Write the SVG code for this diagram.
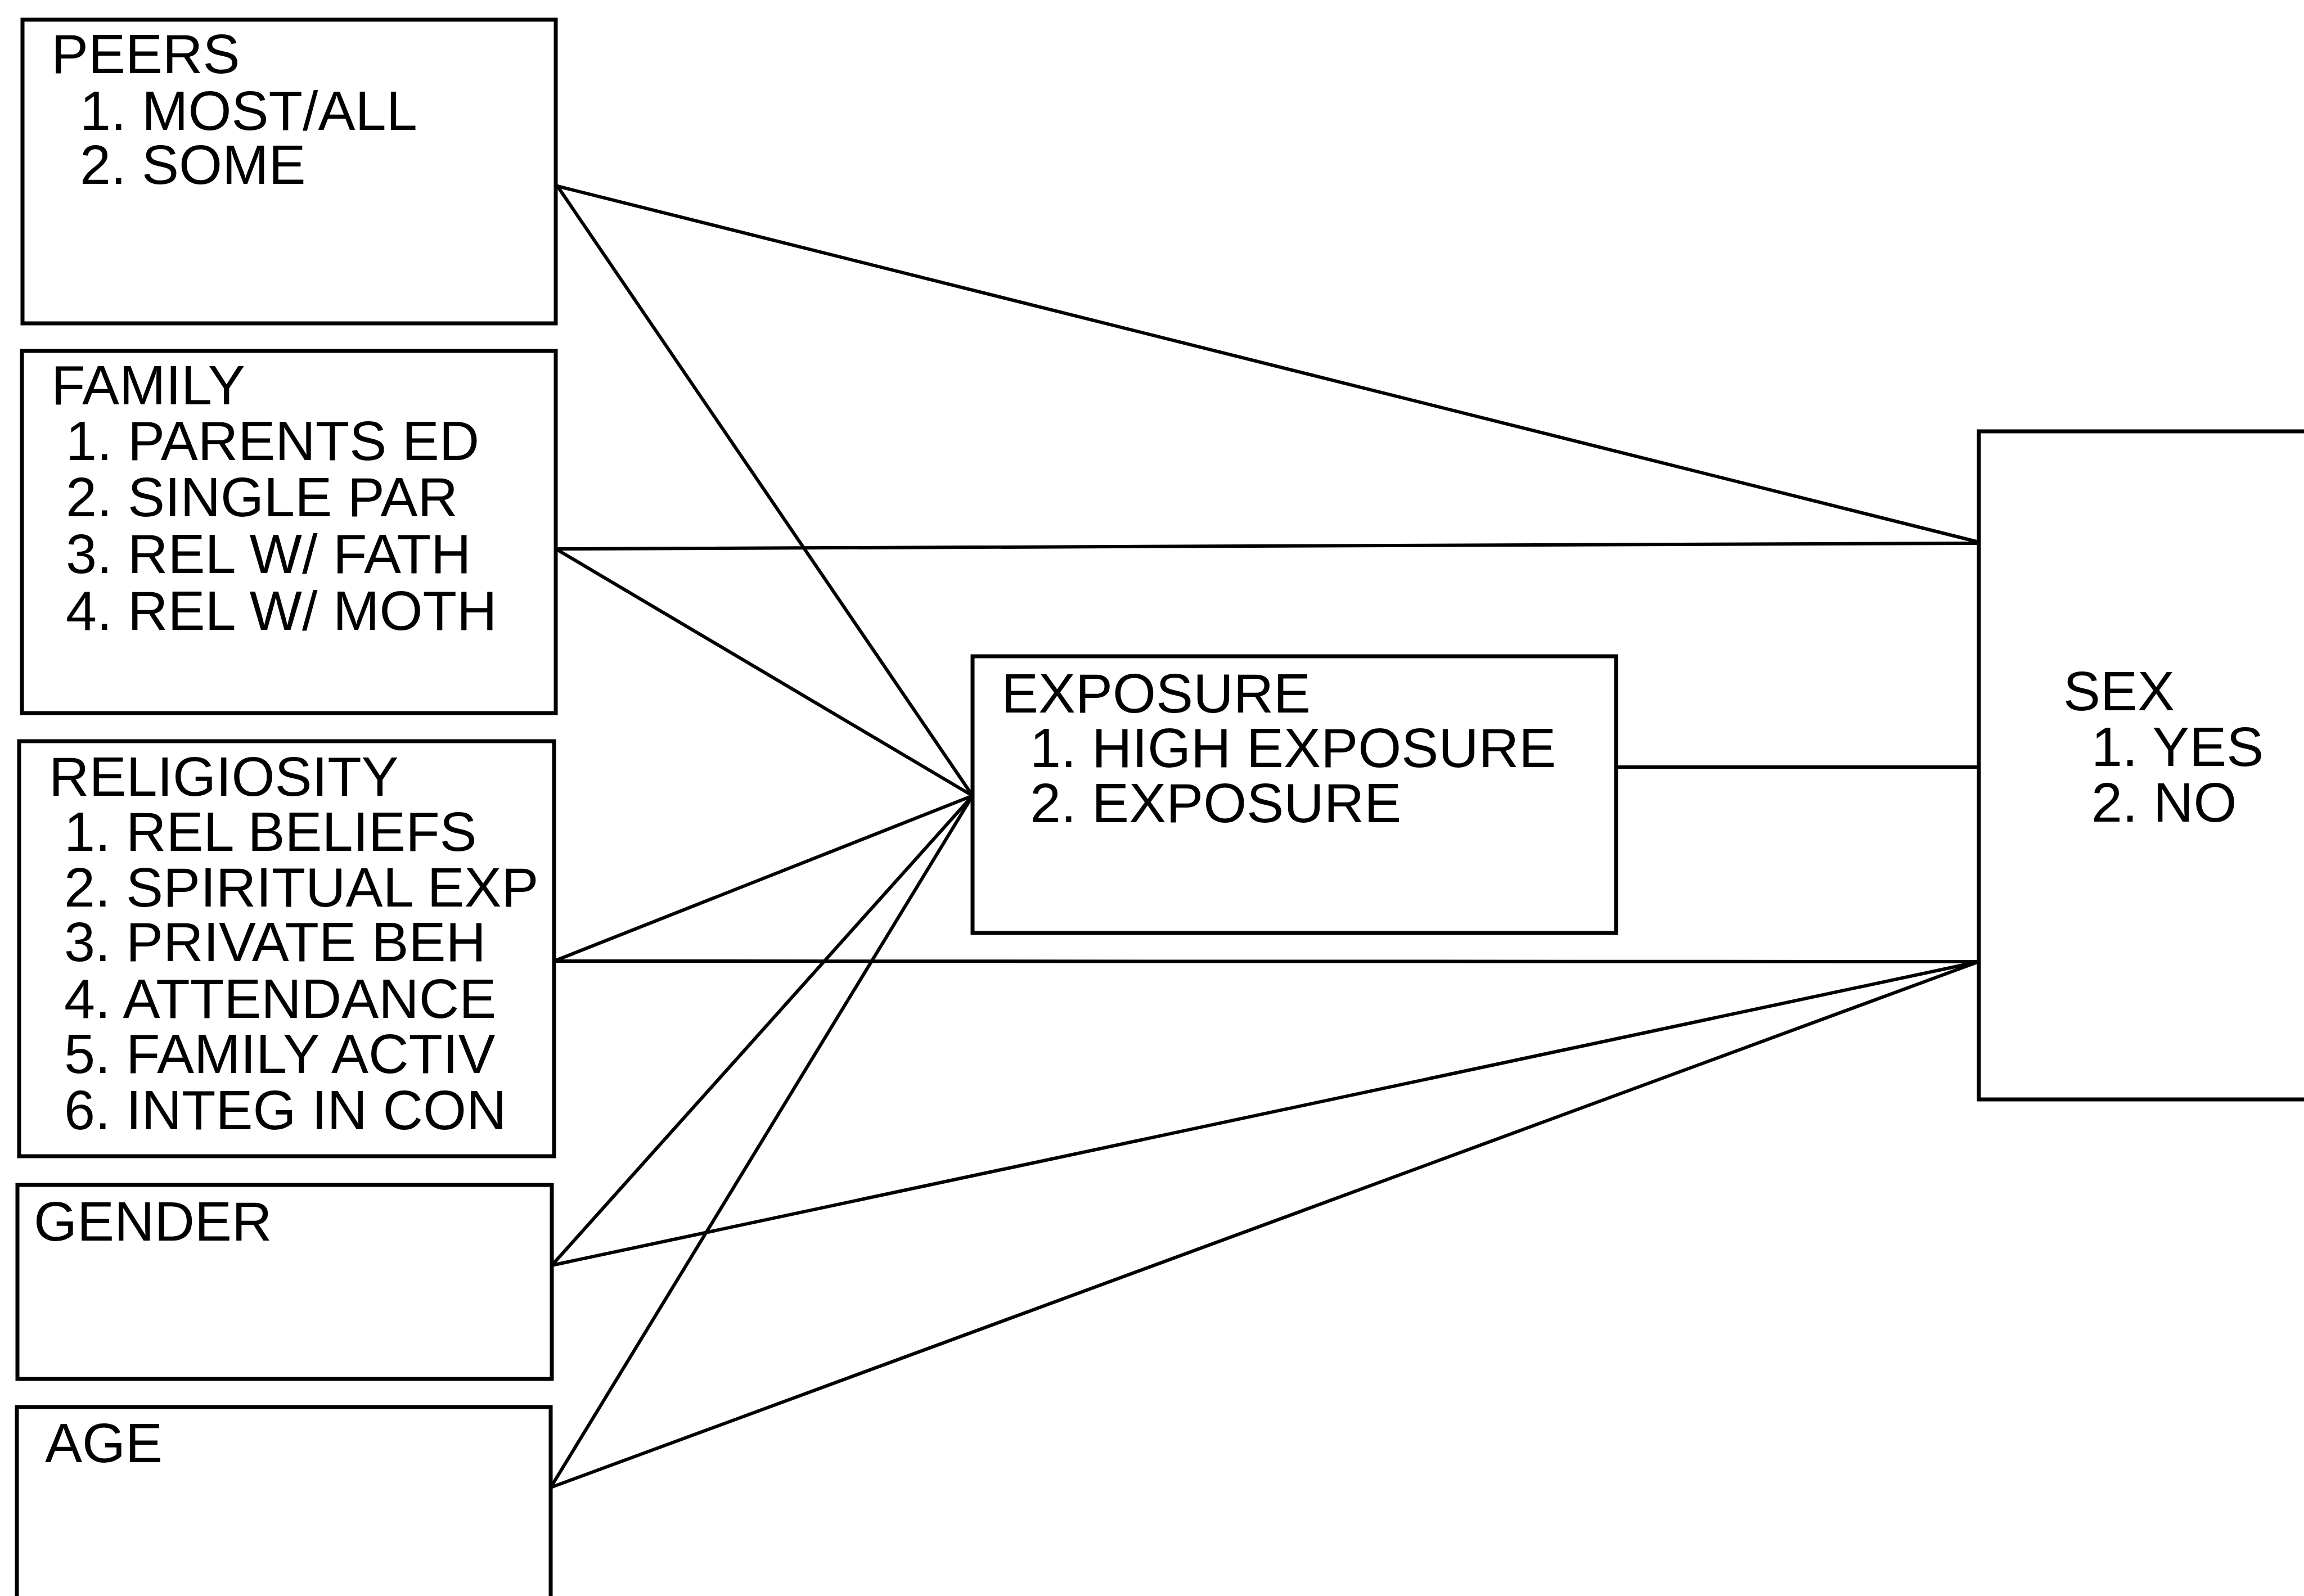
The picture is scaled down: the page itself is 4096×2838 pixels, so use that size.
<svg xmlns="http://www.w3.org/2000/svg" width="4096" height="2838" viewBox="0 0 4096 2838">
<style>
.box{fill:#fff;stroke:#000;stroke-width:7}
.t{font-family:"Liberation Sans",Arial,sans-serif;font-size:99px;fill:#000}
.c{stroke:#000;stroke-width:6;fill:none;stroke-linecap:round}
</style>
<rect width="4096" height="2838" fill="#fff"/>
<g id="connectors">
<line class="c" x1="991" y1="331" x2="3518" y2="964"/>
<line class="c" x1="991" y1="331" x2="1729" y2="1415"/>
<line class="c" x1="988" y1="976" x2="3518" y2="966"/>
<line class="c" x1="988" y1="976" x2="1729" y2="1415"/>
<line class="c" x1="985" y1="1709" x2="1729" y2="1415"/>
<line class="c" x1="985" y1="1709" x2="3518" y2="1710"/>
<line class="c" x1="981" y1="2250" x2="1729" y2="1415"/>
<line class="c" x1="981" y1="2250" x2="3518" y2="1710"/>
<line class="c" x1="979" y1="2645" x2="1729" y2="1415"/>
<line class="c" x1="979" y1="2645" x2="3518" y2="1710"/>
<line class="c" x1="2873" y1="1364" x2="3518" y2="1364"/>
</g>
<g id="peers">
<rect class="box" x="40" y="35" width="948" height="540"/>
<text class="t" x="91" y="130">PEERS</text>
<text class="t" x="142" y="231">1. MOST/ALL</text>
<text class="t" x="142" y="327">2. SOME</text>
</g>
<g id="family">
<rect class="box" x="39" y="624" width="949" height="644"/>
<text class="t" x="91" y="719">FAMILY</text>
<text class="t" x="117" y="818">1. PARENTS ED</text>
<text class="t" x="117" y="918">2. SINGLE PAR</text>
<text class="t" x="117" y="1019">3. REL W/ FATH</text>
<text class="t" x="117" y="1120">4. REL W/ MOTH</text>
</g>
<g id="religiosity">
<rect class="box" x="34" y="1318" width="951" height="738"/>
<text class="t" x="87" y="1415">RELIGIOSITY</text>
<text class="t" x="114" y="1513">1. REL BELIEFS</text>
<text class="t" x="114" y="1612">2. SPIRITUAL EXP</text>
<text class="t" x="114" y="1709">3. PRIVATE BEH</text>
<text class="t" x="114" y="1810">4. ATTENDANCE</text>
<text class="t" x="114" y="1908">5. FAMILY ACTIV</text>
<text class="t" x="114" y="2008">6. INTEG IN CON</text>
</g>
<g id="gender">
<rect class="box" x="31" y="2107" width="950" height="345"/>
<text class="t" x="60" y="2206">GENDER</text>
</g>
<g id="age">
<rect class="box" x="30" y="2502" width="949" height="400"/>
<text class="t" x="80" y="2600">AGE</text>
</g>
<g id="exposure">
<rect class="box" x="1729" y="1167" width="1144" height="492"/>
<text class="t" x="1780" y="1267">EXPOSURE</text>
<text class="t" x="1831" y="1364">1. HIGH EXPOSURE</text>
<text class="t" x="1831" y="1462">2. EXPOSURE</text>
</g>
<g id="sex">
<rect class="box" x="3518" y="767" width="640" height="1188"/>
<text class="t" x="3668" y="1263">SEX</text>
<text class="t" x="3718" y="1362">1. YES</text>
<text class="t" x="3718" y="1461">2. NO</text>
</g>
</svg>
